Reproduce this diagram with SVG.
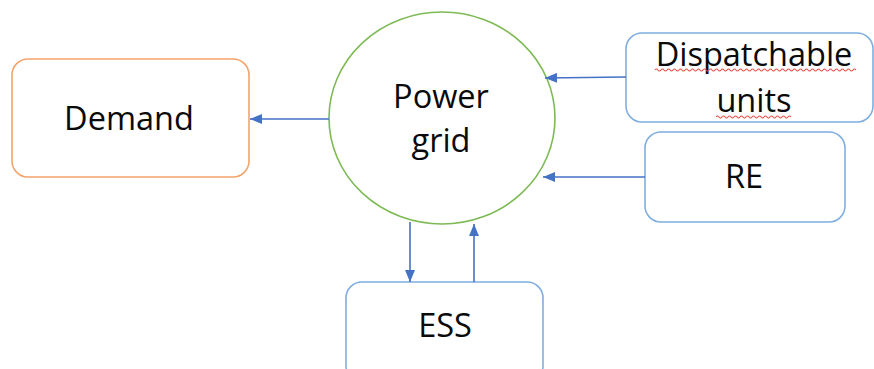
<svg xmlns="http://www.w3.org/2000/svg" width="874" height="369" viewBox="0 0 874 369">
<defs>
<style>
.lbl{font-family:"Open Sans","Noto Sans","Liberation Sans",sans-serif;font-size:32.5px;fill:#0a0a0a;text-anchor:middle}
.box{fill:#fff;stroke-width:1.6}
.blue{stroke:#7FAEE0}
.conn{stroke:#4472C4;stroke-width:1.6;fill:none}
.squig{stroke:#E8504A;stroke-width:1.1;fill:none}
</style>
<marker id="ah" viewBox="0 0 12 10" refX="12" refY="5" markerWidth="12" markerHeight="10" markerUnits="userSpaceOnUse" orient="auto">
<path d="M0,0 L12,5 L0,10 z" fill="#4472C4"/>
</marker>
</defs>
<rect width="874" height="369" fill="#fff"/>
<g id="demand">
<rect class="box" x="12" y="59" width="237" height="118" rx="16" stroke="#F4A46A"/>
<text class="lbl" x="129" y="130">Demand</text>
</g>
<g id="power-grid">
<ellipse cx="442" cy="118" rx="113" ry="106" fill="#fff" stroke="#7DBA55" stroke-width="1.6"/>
<text class="lbl" x="441" y="108">Power</text>
<text class="lbl" x="441" y="152">grid</text>
</g>
<g id="dispatchable">
<rect class="box blue" x="626" y="33" width="247" height="89" rx="16"/>
<text class="lbl" x="754" y="66">Dispatchable</text>
<text class="lbl" x="754" y="112">units</text>
<path class="squig" d="M655,70 q1.5,-2 3,0 t3,0 t3,0 t3,0 t3,0 t3,0 t3,0 t3,0 t3,0 t3,0 t3,0 t3,0 t3,0 t3,0 t3,0 t3,0 t3,0 t3,0 t3,0 t3,0 t3,0 t3,0 t3,0 t3,0 t3,0 t3,0 t3,0 t3,0 t3,0 t3,0 t3,0 t3,0 t3,0 t3,0 t3,0 t3,0 t3,0 t3,0 t3,0 t3,0 t3,0 t3,0 t3,0 t3,0 t3,0 t3,0 t3,0 t3,0 t3,0 t3,0 t3,0 t3,0 t3,0 t3,0 t3,0 t3,0 t3,0 t3,0 t3,0 t3,0 t3,0 t3,0 t3,0 t3,0 t3,0 t3,0 t3,0"/>
<path class="squig" d="M716,117 q1.5,-2 3,0 t3,0 t3,0 t3,0 t3,0 t3,0 t3,0 t3,0 t3,0 t3,0 t3,0 t3,0 t3,0 t3,0 t3,0 t3,0 t3,0 t3,0 t3,0 t3,0 t3,0 t3,0 t3,0 t3,0 t3,0"/>
</g>
<g id="re">
<rect class="box blue" x="645" y="132" width="200" height="90" rx="16"/>
<text class="lbl" x="744" y="188">RE</text>
</g>
<g id="ess">
<rect class="box blue" x="346" y="282" width="197" height="100" rx="16"/>
<text class="lbl" x="445" y="337">ESS</text>
</g>
<g id="connectors">
<line class="conn" x1="329" y1="119" x2="250" y2="119" marker-end="url(#ah)"/>
<line class="conn" x1="626" y1="77" x2="545" y2="78" marker-end="url(#ah)"/>
<line class="conn" x1="645" y1="177" x2="543" y2="177" marker-end="url(#ah)"/>
<line class="conn" x1="410" y1="222" x2="410" y2="282" marker-end="url(#ah)"/>
<line class="conn" x1="474" y1="282" x2="474" y2="224" marker-end="url(#ah)"/>
</g>
</svg>
